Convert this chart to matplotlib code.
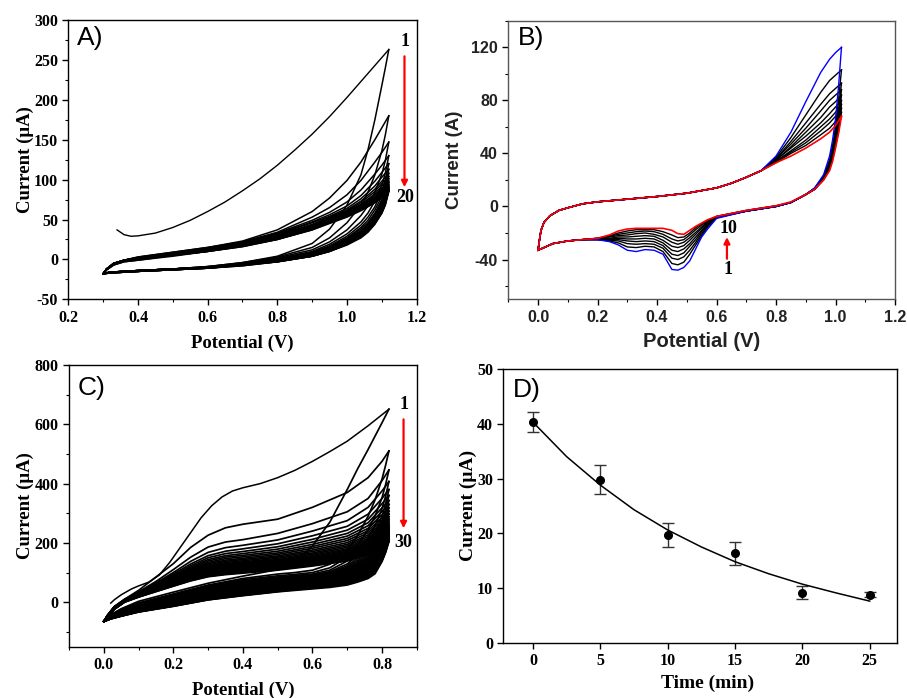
import numpy as np
import matplotlib.pyplot as plt
from matplotlib.ticker import MultipleLocator

SERIF = 'Liberation Serif'
SANS = 'Liberation Sans'
plt.rcParams['font.family'] = SERIF
plt.rcParams['font.weight'] = 'bold'
plt.rcParams['axes.labelweight'] = 'bold'
plt.rcParams['axes.unicode_minus'] = False

# ---------------- panel A : 20 cycles ----------------
A_E1_fwd = [0.34, 0.35, 0.36, 0.38, 0.40, 0.45, 0.50, 0.55, 0.60, 0.65, 0.70, 0.75,
            0.80, 0.85, 0.90, 0.95, 1.00, 1.05, 1.10, 1.12]
A_I1_fwd = [37, 34, 31, 29, 29.5, 33, 40, 49, 60, 72, 86, 101,
            118, 137, 157, 179, 203, 228, 253, 263]

A_E_fwd = [0.30, 0.31, 0.33, 0.36, 0.40, 0.50, 0.60, 0.70, 0.80, 0.90, 0.95, 1.00, 1.04, 1.08, 1.10, 1.12]
A_I_fwd = [  # cycles 2..20
    [-18, -12, -5, -1, 3, 9, 15, 23, 37, 60, 77, 99, 122, 150, 165, 180],
    [-18, -12, -5, -1, 3, 9, 15, 22, 34, 53, 65, 81, 99, 122, 134, 147],
    [-18, -12, -5, -1, 2, 8, 14, 22, 33, 49, 59, 72, 87, 107, 118, 130],
    [-18, -12, -5, -1, 2, 8, 14, 21, 32, 47, 56, 67, 80, 98, 109, 120],
    [-18, -12, -5, -1, 2, 8, 14, 21, 31, 46, 54, 64, 76, 92, 103, 113],
    [-18, -12, -5, -1, 2, 8, 13, 20, 30, 44, 53, 62, 73, 88, 98, 108],
    [-18, -12, -5, -1, 2, 7, 13, 20, 30, 43, 52, 61, 71, 85, 95, 104],
    [-18, -12, -6, -2, 1, 7, 13, 20, 29, 43, 51, 60, 69, 82, 92, 101],
    [-18, -12, -6, -2, 1, 7, 12, 19, 29, 42, 50, 59, 68, 80, 89, 98],
    [-18, -12, -6, -2, 1, 7, 12, 19, 28, 41, 50, 58, 67, 78, 87, 96],
    [-18, -12, -6, -2, 1, 6, 12, 19, 28, 41, 49, 57, 66, 77, 85, 94],
    [-18, -12, -6, -2, 1, 6, 11, 18, 27, 40, 49, 57, 65, 76, 84, 92],
    [-18, -12, -6, -2, 0, 6, 11, 18, 27, 40, 48, 56, 64, 75, 83, 91],
    [-18, -12, -6, -2, 0, 6, 11, 18, 26, 39, 48, 56, 64, 74, 82, 90],
    [-18, -13, -6, -2, 0, 5, 11, 17, 26, 39, 47, 55, 63, 73, 81, 89],
    [-18, -13, -6, -2, 0, 5, 10, 17, 26, 38, 47, 55, 63, 73, 80, 88],
    [-18, -13, -7, -2, 0, 5, 10, 17, 25, 38, 46, 54, 62, 72, 79, 87],
    [-18, -13, -7, -3, -1, 5, 10, 16, 25, 37, 46, 54, 62, 71, 79, 86],
    [-18, -13, -7, -3, -1, 4, 10, 16, 25, 37, 45, 53, 61, 71, 78, 85],
]
A_E_rev = [1.12, 1.11, 1.10, 1.08, 1.06, 1.04, 1.00, 0.95, 0.90, 0.80, 0.70, 0.60, 0.50, 0.40, 0.32, 0.30]
A_I_rev = [  # cycles 1..20
    [263, 240, 218, 175, 137, 106, 68, 38, 20, 4, -4, -9, -12, -14, -16, -18],
    [180, 156, 136, 106, 84, 68, 46, 27, 15, 3, -4, -9, -12, -14, -16, -18],
    [147, 124, 107, 84, 67, 55, 37, 22, 12, 2, -5, -9, -12, -14, -16, -18],
    [130, 108, 93, 73, 58, 47, 32, 19, 10, 1, -5, -10, -12, -14, -16, -18],
    [120, 99, 85, 66, 53, 43, 29, 17, 9, 0, -5, -10, -12, -14, -16, -18],
    [113, 93, 79, 62, 49, 40, 27, 16, 8, 0, -5, -10, -12, -14, -16, -18],
    [108, 88, 75, 58, 46, 38, 26, 15, 8, 0, -6, -10, -12, -14, -16, -18],
    [104, 85, 72, 56, 44, 36, 25, 14, 7, -1, -6, -10, -12, -14, -16, -18],
    [101, 82, 70, 54, 43, 35, 24, 14, 7, -1, -6, -10, -12, -14, -16, -18],
    [98, 80, 68, 52, 41, 34, 23, 13, 6, -1, -6, -10, -12, -14, -16, -18],
    [96, 78, 66, 51, 40, 33, 22, 13, 6, -1, -6, -10, -12, -14, -16, -18],
    [94, 76, 65, 50, 39, 32, 22, 12, 6, -2, -6, -10, -12, -15, -16, -18],
    [92, 75, 64, 49, 38, 31, 21, 12, 5, -2, -7, -10, -13, -15, -16, -18],
    [91, 74, 63, 48, 38, 30, 21, 12, 5, -2, -7, -10, -13, -15, -16, -18],
    [90, 73, 62, 47, 37, 30, 20, 11, 5, -2, -7, -11, -13, -15, -17, -18],
    [89, 72, 61, 46, 36, 29, 20, 11, 5, -2, -7, -11, -13, -15, -17, -18],
    [88, 71, 60, 46, 36, 29, 19, 11, 4, -3, -7, -11, -13, -15, -17, -18],
    [87, 70, 59, 45, 35, 28, 19, 10, 4, -3, -7, -11, -13, -15, -17, -18],
    [86, 69, 58, 45, 35, 28, 19, 10, 4, -3, -8, -11, -13, -15, -17, -18],
    [85, 68, 58, 44, 34, 27, 18, 10, 4, -3, -8, -11, -13, -15, -17, -18],
]

# ---------------- panel B : 10 cycles ----------------
B_E_fwd = [0.0, 0.005, 0.01, 0.02, 0.04, 0.07, 0.1, 0.15, 0.2, 0.3, 0.4, 0.5, 0.6, 0.65, 0.7, 0.75,
           0.8, 0.85, 0.9, 0.95, 0.98, 1.0, 1.02]
B_I_fwd_start = [-33, -25, -18, -12, -7, -3, -1, 2, 3.5, 5.5, 7.5, 10, 14, 17.5, 22, 27]
B_I_fwd_end = [  # cycles 1..10, from 0.8 V to 1.02 V
    [38, 56, 79, 101, 111, 116, 120],
    [37, 52, 69, 86, 95, 99, 103],
    [36, 49, 63, 77, 85, 89, 93],
    [36, 47, 59, 72, 80, 84, 88],
    [35, 45, 56, 67, 75, 79, 84],
    [35, 44, 53, 63, 70, 75, 80],
    [34, 42, 50, 60, 66, 71, 77],
    [34, 41, 48, 57, 63, 68, 74],
    [33, 40, 46, 54, 59, 64, 71],
    [33, 38, 44, 51, 56, 61, 68],
]
B_E_rev = [1.02, 1.01, 1.0, 0.99, 0.98, 0.96, 0.93, 0.9, 0.85, 0.8, 0.7, 0.6, 0.57, 0.55, 0.53, 0.51,
           0.49, 0.47, 0.45, 0.42, 0.39, 0.36, 0.33, 0.3, 0.27, 0.24, 0.2, 0.15, 0.1, 0.05, 0.0]
B_I_rev = [  # cycles 1..10
    [120, 90, 66, 50, 38, 24, 14, 9, 3, 0, -3.5, -9, -17, -23, -32, -41, -46, -48, -47.5, -36, -33, -32.5, -34, -33, -29, -26.5, -25, -25, -26, -28, -33],
    [103, 80, 60, 46, 35, 23, 14, 9, 3, 0, -3.5, -8.5, -15.5, -22, -29, -36, -42, -44, -43, -34, -30.5, -30, -31, -30.5, -27.5, -26, -25, -25, -26, -28, -33],
    [93, 72, 56, 43, 33, 22, 13.5, 9, 3, 0, -3.5, -8.5, -14.5, -20.5, -27, -33, -38, -40, -39, -31.5, -28.5, -28, -28.5, -28, -26, -25.5, -25, -25, -26, -28, -33],
    [88, 68, 53, 41, 32, 22, 13.5, 9, 3, 0, -3.5, -8, -13.5, -19, -25, -30, -35, -37, -36, -29.5, -26.5, -26, -26.5, -26, -25, -25, -25, -25, -26, -28, -33],
    [84, 65, 51, 39, 31, 21, 13, 9, 3, 0, -3.5, -8, -13, -18, -23, -28, -32, -34, -33, -27.5, -24.5, -24, -24.5, -24.5, -24, -24.5, -24.5, -25, -26, -28, -33],
    [80, 62, 49, 38, 30, 21, 13, 9, 3, 0, -3.5, -8, -12, -16.5, -21, -25.5, -29.5, -31, -30, -25.5, -22.5, -22, -22.5, -23, -23, -24, -24.5, -25, -26, -28, -33],
    [77, 60, 48, 37, 29, 21, 13, 9, 3, 0, -3.5, -8, -11.5, -15.5, -19.5, -23.5, -27, -28.5, -27, -23, -21, -20, -20.5, -21.5, -22, -23, -24, -25, -26, -28, -33],
    [74, 58, 47, 36, 28.5, 20.5, 13, 9, 3, 0.5, -3, -7.5, -11, -14, -17.5, -21.5, -25, -26, -24.5, -21, -19, -18.5, -19, -20, -21, -22.5, -24, -25, -26, -28, -33],
    [71, 56, 45.5, 35, 28, 20, 13, 9, 3, 0.5, -3, -7.5, -10.5, -13, -16, -20, -23, -23.5, -21.5, -19, -17.5, -17.5, -17.5, -18.5, -20, -22, -24, -25, -26, -28, -33],
    [68, 55, 44, 34, 27, 20, 13, 9, 3.5, 0.5, -3, -7.5, -10, -12.5, -15, -18, -21, -20.5, -18, -16.5, -16.5, -16.5, -16.5, -17, -18.5, -21.5, -24, -25, -26, -28, -33],
]

# ---------------- panel C : 30 cycles ----------------
C_E1_fwd = [0.02, 0.03, 0.05, 0.08, 0.10, 0.13, 0.16, 0.19, 0.22, 0.25, 0.28, 0.31, 0.34,
            0.37, 0.40, 0.45, 0.50, 0.55, 0.60, 0.65, 0.70, 0.76, 0.82]
C_I1_fwd = [-3, 8, 25, 45, 55, 68, 92, 135, 185, 235, 285, 325, 355,
            375, 386, 400, 420, 445, 475, 508, 543, 595, 651]
C_E_fwd = [0.00, 0.01, 0.03, 0.06, 0.10, 0.15, 0.20, 0.25, 0.30, 0.35, 0.40, 0.50, 0.60, 0.70, 0.76, 0.80, 0.82]
C_I_fwd = [  # cycles 2..30
    [-65, -45, -15, 10, 40, 85, 130, 185, 226, 251, 263, 280, 320, 370, 420, 475, 510],
    [-65, -45, -15, 10, 35, 70, 110, 152, 186, 203, 211, 232, 265, 305, 350, 410, 446],
    [-65, -45, -16, 9, 33, 65, 100, 138, 168, 184, 192, 210, 240, 275, 320, 375, 407],
    [-65, -46, -16, 9, 32, 62, 95, 129, 157, 172, 180, 197, 224, 256, 297, 350, 380],
    [-65, -46, -16, 8, 31, 60, 91, 123, 150, 164, 171, 187, 212, 243, 280, 332, 360],
    [-65, -46, -17, 8, 30, 58, 88, 118, 144, 157, 164, 179, 203, 232, 268, 318, 343],
    [-65, -46, -17, 8, 29, 56, 85, 114, 139, 152, 158, 172, 195, 223, 258, 306, 330],
    [-65, -47, -17, 7, 28, 55, 82, 110, 134, 147, 153, 166, 188, 215, 249, 295, 318],
    [-65, -47, -18, 7, 28, 53, 80, 107, 130, 142, 148, 161, 182, 208, 241, 285, 307],
    [-65, -47, -18, 7, 27, 52, 78, 104, 126, 138, 144, 156, 176, 201, 234, 276, 297],
    [-65, -47, -18, 6, 26, 51, 76, 101, 122, 134, 140, 152, 171, 195, 227, 268, 288],
    [-65, -48, -19, 6, 26, 50, 74, 98, 119, 130, 136, 148, 166, 190, 221, 261, 280],
    [-65, -48, -19, 6, 25, 49, 72, 96, 116, 127, 133, 144, 162, 185, 215, 254, 273],
    [-65, -48, -19, 5, 25, 48, 70, 93, 113, 124, 130, 141, 158, 180, 210, 248, 266],
    [-65, -48, -20, 5, 24, 47, 69, 91, 110, 121, 127, 138, 154, 176, 205, 242, 260],
    [-65, -49, -20, 5, 24, 46, 67, 89, 108, 118, 124, 135, 151, 172, 200, 237, 254],
    [-65, -49, -20, 4, 23, 45, 66, 87, 106, 116, 122, 132, 148, 168, 196, 232, 249],
    [-65, -49, -21, 4, 23, 44, 65, 85, 104, 114, 120, 130, 145, 165, 192, 227, 244],
    [-65, -49, -21, 4, 22, 43, 64, 84, 102, 112, 118, 128, 142, 162, 188, 223, 239],
    [-65, -50, -21, 3, 22, 42, 63, 82, 100, 110, 116, 126, 140, 159, 185, 219, 235],
    [-65, -50, -22, 3, 21, 41, 62, 81, 98, 108, 114, 124, 138, 156, 182, 215, 231],
    [-65, -50, -22, 3, 21, 41, 61, 79, 96, 106, 112, 122, 136, 154, 179, 211, 227],
    [-65, -50, -22, 2, 20, 40, 60, 78, 94, 104, 110, 120, 134, 151, 176, 208, 223],
    [-65, -51, -23, 2, 20, 39, 59, 77, 93, 102, 108, 118, 132, 149, 173, 205, 219],
    [-65, -51, -23, 2, 19, 38, 58, 76, 91, 100, 106, 116, 130, 147, 171, 202, 216],
    [-65, -51, -23, 1, 19, 38, 57, 75, 90, 98, 104, 114, 128, 145, 168, 199, 213],
    [-65, -51, -24, 1, 18, 37, 56, 74, 88, 96, 102, 112, 126, 143, 166, 197, 210],
    [-65, -52, -24, 1, 18, 36, 55, 73, 87, 95, 100, 110, 124, 141, 164, 194, 207],
    [-65, -52, -24, 0, 17, 36, 54, 72, 86, 93, 98, 108, 122, 139, 162, 192, 204],
]
C_E_rev = [0.82, 0.81, 0.80, 0.78, 0.76, 0.73, 0.70, 0.65, 0.60, 0.55, 0.50, 0.40, 0.30, 0.20, 0.10, 0.05, 0.02, 0.00]
C_I_rev = [  # cycles 1..30
    [651, 628, 605, 560, 515, 450, 380, 270, 190, 132, 110, 88, 64, 34, 3, -22, -42, -65],
    [510, 460, 415, 345, 290, 225, 175, 128, 108, 100, 95, 80, 58, 28, -2, -25, -44, -65],
    [446, 395, 352, 290, 245, 192, 152, 116, 100, 94, 89, 76, 55, 25, -5, -27, -45, -65],
    [407, 356, 315, 257, 217, 172, 139, 108, 95, 90, 85, 72, 52, 22, -7, -28, -46, -65],
    [380, 330, 290, 235, 198, 158, 129, 103, 92, 87, 82, 69, 49, 20, -9, -30, -47, -65],
    [360, 311, 272, 219, 185, 149, 123, 99, 89, 84, 79, 67, 47, 18, -11, -31, -48, -65],
    [343, 295, 257, 207, 175, 142, 118, 96, 87, 82, 77, 65, 45, 16, -13, -32, -49, -65],
    [330, 283, 246, 198, 167, 136, 114, 94, 85, 80, 75, 63, 43, 14, -14, -33, -49, -65],
    [318, 272, 236, 190, 160, 131, 110, 92, 83, 78, 73, 61, 41, 12, -16, -34, -50, -65],
    [307, 262, 227, 183, 154, 127, 107, 90, 81, 76, 71, 59, 39, 11, -17, -35, -50, -65],
    [297, 253, 219, 177, 149, 123, 104, 88, 80, 75, 70, 57, 37, 9, -18, -36, -51, -65],
    [288, 245, 212, 171, 144, 119, 101, 86, 78, 73, 68, 55, 35, 7, -19, -37, -51, -65],
    [280, 238, 206, 166, 140, 116, 99, 84, 77, 72, 66, 53, 33, 5, -20, -38, -52, -65],
    [273, 231, 200, 161, 136, 113, 97, 83, 75, 70, 64, 51, 31, 3, -21, -38, -52, -65],
    [266, 225, 194, 156, 132, 110, 95, 81, 74, 69, 62, 49, 29, 1, -22, -39, -52, -65],
    [260, 219, 189, 152, 128, 107, 93, 80, 72, 67, 60, 47, 27, 0, -23, -40, -53, -65],
    [254, 214, 184, 148, 125, 104, 91, 78, 71, 66, 59, 45, 25, -2, -24, -40, -53, -65],
    [249, 209, 180, 144, 122, 102, 89, 77, 69, 64, 57, 43, 23, -3, -25, -41, -53, -65],
    [244, 204, 176, 140, 119, 99, 87, 75, 68, 63, 55, 41, 21, -4, -26, -42, -54, -65],
    [239, 200, 172, 136, 116, 97, 85, 74, 66, 61, 53, 39, 19, -6, -27, -42, -54, -65],
    [235, 196, 168, 132, 113, 94, 83, 72, 65, 59, 51, 37, 17, -7, -28, -43, -54, -65],
    [231, 192, 164, 128, 110, 92, 81, 70, 63, 57, 49, 35, 16, -8, -29, -44, -55, -65],
    [227, 188, 160, 124, 107, 89, 78, 68, 61, 55, 47, 33, 14, -9, -30, -44, -55, -65],
    [223, 184, 156, 120, 104, 87, 76, 66, 59, 53, 45, 31, 13, -10, -30, -45, -55, -65],
    [219, 181, 152, 116, 100, 84, 73, 64, 57, 51, 43, 29, 12, -11, -31, -45, -55, -65],
    [216, 178, 149, 112, 96, 81, 70, 62, 55, 49, 41, 27, 11, -12, -31, -46, -56, -65],
    [213, 175, 146, 108, 92, 78, 67, 59, 52, 47, 39, 26, 10, -12, -32, -46, -56, -65],
    [210, 172, 143, 104, 88, 74, 64, 56, 50, 45, 37, 24, 9, -13, -32, -47, -56, -65],
    [207, 169, 140, 100, 84, 71, 61, 53, 47, 42, 36, 23, 8, -13, -33, -47, -56, -65],
    [204, 166, 137, 96, 80, 68, 58, 50, 45, 40, 35, 22, 8, -14, -33, -47, -56, -65],
]

# ---------------- panel D ----------------
D_time = [0, 5, 10, 15, 20, 25]
D_current = [40.3, 29.8, 19.7, 16.3, 9.1, 8.8]
D_err = [1.8, 2.65, 2.15, 2.1, 1.2, 0.4]
D_fit_t = [0, 2.5, 5, 7.5, 10, 12.5, 15, 17.5, 20, 22.5, 25]
D_fit_i = [40.3, 34.0, 28.8, 24.3, 20.6, 17.5, 14.8, 12.6, 10.7, 9.1, 7.6]

# tick labels
A_xt = [0.2, 0.4, 0.6, 0.8, 1.0, 1.2]
A_yt = [-50, 0, 50, 100, 150, 200, 250, 300]
B_xt = [0.0, 0.2, 0.4, 0.6, 0.8, 1.0, 1.2]
B_yt = [-40, 0, 40, 80, 120]
C_xt = [0.0, 0.2, 0.4, 0.6, 0.8]
C_yt = [0, 200, 400, 600, 800]
D_xt = [0, 5, 10, 15, 20, 25]
D_yt = [0, 10, 20, 30, 40, 50]


fig = plt.figure(figsize=(9.07, 6.98), dpi=100)
axA = fig.add_axes([0.0753, 0.5712, 0.3841, 0.4001])
axB = fig.add_axes([0.5604, 0.5712, 0.4264, 0.3990])
axC = fig.add_axes([0.0761, 0.0735, 0.3834, 0.4036])
axD = fig.add_axes([0.5549, 0.0792, 0.4337, 0.3921])

# A
axA.plot(A_E1_fwd, A_I1_fwd, color='black', lw=1.0)
for row in A_I_fwd:
    axA.plot(A_E_fwd, row, color='black', lw=1.1)
for row in A_I_rev:
    axA.plot(A_E_rev, row, color='black', lw=1.1)
axA.set_xlim(0.2, 1.2)
axA.set_ylim(-50, 300)
axA.xaxis.set_minor_locator(MultipleLocator(0.1))
axA.yaxis.set_minor_locator(MultipleLocator(25))
axA.annotate('', xy=(1.165, 87), xytext=(1.165, 258),
             arrowprops=dict(arrowstyle='-|>', color='red', lw=1.6, mutation_scale=9))
axA.text(1.166, 273, '1', fontsize=13, ha='center', va='center')
axA.text(1.166, 77, '20', fontsize=13, ha='center', va='center')

# B
for k in range(1, 9):
    axB.plot(B_E_fwd, B_I_fwd_start + B_I_fwd_end[k], color='black', lw=1.0)
    axB.plot(B_E_rev, B_I_rev[k], color='black', lw=1.0)
axB.plot(B_E_fwd, B_I_fwd_start + B_I_fwd_end[0], color='blue', lw=1.0)
axB.plot(B_E_rev, B_I_rev[0], color='blue', lw=1.0)
axB.plot(B_E_fwd, B_I_fwd_start + B_I_fwd_end[9], color='red', lw=1.2)
axB.plot(B_E_rev, B_I_rev[9], color='red', lw=1.2)
axB.set_xlim(-0.1, 1.2)
axB.set_ylim(-70, 140)
axB.xaxis.set_minor_locator(MultipleLocator(0.1))
axB.yaxis.set_minor_locator(MultipleLocator(20))
axB.annotate('', xy=(0.635, -21), xytext=(0.635, -41.5),
             arrowprops=dict(arrowstyle='-|>', color='red', lw=1.6, mutation_scale=9))
axB.text(0.64, -16.5, '10', fontsize=13, ha='center', va='center')
axB.text(0.64, -47.5, '1', fontsize=13, ha='center', va='center')

# C
axC.plot(C_E1_fwd, C_I1_fwd, color='black', lw=1.1)
for row in C_I_fwd:
    axC.plot(C_E_fwd, row, color='black', lw=1.25)
for row in C_I_rev:
    axC.plot(C_E_rev, row, color='black', lw=1.25)
axC.set_xlim(-0.1, 0.9)
axC.set_ylim(-150, 800)
axC.xaxis.set_minor_locator(MultipleLocator(0.1))
axC.yaxis.set_minor_locator(MultipleLocator(100))
axC.annotate('', xy=(0.862, 240), xytext=(0.862, 626),
             arrowprops=dict(arrowstyle='-|>', color='red', lw=1.6, mutation_scale=9))
axC.text(0.862, 666, '1', fontsize=13, ha='center', va='center')
axC.text(0.862, 200, '30', fontsize=13, ha='center', va='center')

# D
axD.errorbar(D_time, D_current, yerr=D_err, fmt='o', color='black', ms=5.5,
             ecolor='#333333', elinewidth=1, capsize=4.5, capthick=1)
axD.plot(D_fit_t, D_fit_i, color='black', lw=1.1)
axD.set_xlim(-2.2, 27)
axD.set_ylim(0, 50)

# tick labels, bold
for ax, xt, yt, fam, fmt in ((axA, A_xt, A_yt, SERIF, '{:.1f}'), (axB, B_xt, B_yt, SANS, '{:.1f}'),
                             (axC, C_xt, C_yt, SERIF, '{:.1f}'), (axD, D_xt, D_yt, SERIF, '{:g}')):
    ax.set_xticks(xt, [fmt.format(v) for v in xt], fontweight='bold', family=fam, fontsize=11.5)
    ax.set_yticks(yt, ['{:g}'.format(v) for v in yt], fontweight='bold', family=fam, fontsize=11.5)

# styling
for ax in (axA, axB, axC, axD):
    ax.tick_params(which='major', direction='out', length=4.5, width=1, top=False, right=False, pad=3)
    ax.tick_params(which='minor', direction='out', length=2.5, width=0.8, top=False, right=False)
    for s in ax.spines.values():
        s.set_linewidth(1.0)
axB.tick_params(labelcolor='#222222')
for s in axB.spines.values():
    s.set_color('#555555')

axA.set_xlabel('Potential (V)', fontsize=13.5, va='center')
axA.set_ylabel('Current (\u03bcA)', fontsize=13.5, va='center')
axA.xaxis.set_label_coords(0.5, -0.158)
axA.yaxis.set_label_coords(-0.124, 0.5)

axB.set_xlabel('Potential (V)', fontsize=14.5, family=SANS, va='center', color='#222222')
axB.set_ylabel('Current (A)', fontsize=13.5, family=SANS, va='center', color='#222222')
axB.xaxis.set_label_coords(0.5, -0.152)
axB.yaxis.set_label_coords(-0.138, 0.5)

axC.set_xlabel('Potential (V)', fontsize=13.5, va='center')
axC.set_ylabel('Current (\u03bcA)', fontsize=13.5, va='center')
axC.xaxis.set_label_coords(0.5, -0.154)
axC.yaxis.set_label_coords(-0.127, 0.5)

axD.set_xlabel('Time (min)', fontsize=14, va='center')
axD.set_ylabel('Current (\u03bcA)', fontsize=14, va='center')
axD.xaxis.set_label_coords(0.52, -0.147)
axD.yaxis.set_label_coords(-0.09, 0.5)

for ax, letter, y in ((axA, 'A)', 0.937), (axB, 'B)', 0.937), (axC, 'C)', 0.92), (axD, 'D)', 0.923)):
    ax.text(0.025, y, letter, transform=ax.transAxes, fontsize=19, family=SANS,
            fontweight='normal', ha='left', va='center')

fig.savefig('out.png', dpi=100)
